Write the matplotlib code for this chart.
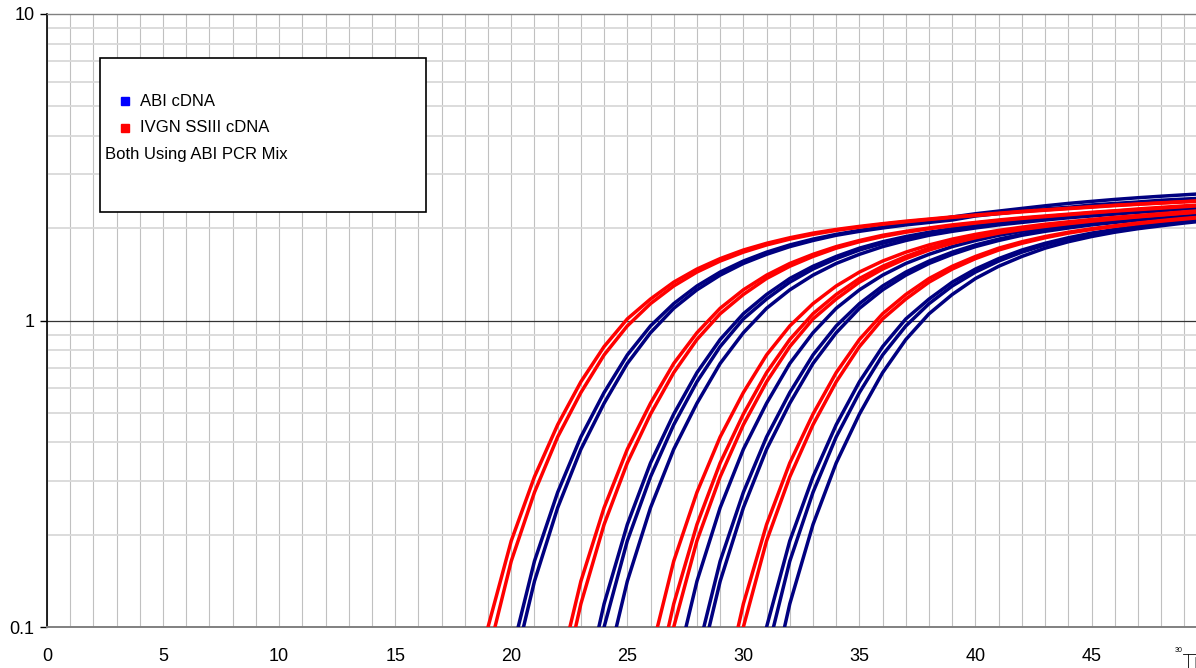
import matplotlib
matplotlib.use("Agg")
import matplotlib.pyplot as plt
from matplotlib.ticker import MultipleLocator, LogLocator, FixedLocator, NullFormatter
from matplotlib.patches import Rectangle
from matplotlib.lines import Line2D

plt.rcParams['font.family'] = ['Liberation Sans', 'DejaVu Sans']

# Amplification curves (Rn per cycle), each list starts at the given first cycle
# ABI cDNA (blue)
abi_1a_start = 20
abi_1a = [0.081, 0.164, 0.275, 0.417, 0.582, 0.772, 0.960, 1.135, 1.296, 1.439, 1.563,
          1.671, 1.764, 1.843, 1.910, 1.968, 2.016, 2.061, 2.119, 2.176, 2.230, 2.275,
          2.321, 2.367, 2.410, 2.447, 2.483, 2.515, 2.544, 2.571, 2.598]
abi_1b_start = 20
abi_1b = [0.068, 0.141, 0.245, 0.380, 0.537, 0.724, 0.912, 1.096, 1.259, 1.406, 1.535,
          1.644, 1.742, 1.824, 1.897, 1.954, 2.004, 2.051, 2.089, 2.128, 2.193, 2.233,
          2.273, 2.314, 2.340, 2.382, 2.409, 2.436, 2.468, 2.490, 2.512]
abi_2a_start = 23
abi_2a = [0.055, 0.119, 0.216, 0.343, 0.495, 0.676, 0.867, 1.052, 1.216, 1.371, 1.503,
          1.618, 1.722, 1.807, 1.879, 1.941, 1.993, 2.037, 2.080, 2.118, 2.153, 2.183,
          2.214, 2.245, 2.275, 2.300, 2.326, 2.352]
abi_2b_start = 23
abi_2b = [0.045, 0.100, 0.191, 0.309, 0.457, 0.631, 0.822, 1.012, 1.175, 1.334, 1.472,
          1.592, 1.698, 1.786, 1.862, 1.928, 1.982, 2.028, 2.070, 2.109, 2.143, 2.178,
          2.208, 2.239, 2.270, 2.296, 2.323, 2.350]
abi_2c_start = 24
abi_2c = [0.068, 0.141, 0.245, 0.380, 0.537, 0.724, 0.912, 1.096, 1.259, 1.406, 1.535,
          1.644, 1.742, 1.824, 1.897, 1.954, 2.004, 2.051, 2.089, 2.128, 2.163, 2.193,
          2.223, 2.254, 2.280, 2.312, 2.339]
abi_3a_start = 27
abi_3a = [0.068, 0.141, 0.245, 0.380, 0.537, 0.724, 0.912, 1.096, 1.259, 1.406, 1.535,
          1.644, 1.742, 1.824, 1.897, 1.954, 2.004, 2.051, 2.089, 2.128, 2.163, 2.193,
          2.223, 2.254]
abi_3b_start = 28
abi_3b = [0.081, 0.164, 0.275, 0.417, 0.582, 0.772, 0.960, 1.135, 1.296, 1.439, 1.563,
          1.671, 1.764, 1.843, 1.910, 1.968, 2.016, 2.061, 2.099, 2.136, 2.170, 2.200,
          2.231]
abi_3c_start = 28
abi_3c = [0.068, 0.141, 0.245, 0.380, 0.537, 0.724, 0.912, 1.096, 1.259, 1.406, 1.535,
          1.644, 1.742, 1.824, 1.897, 1.954, 2.004, 2.051, 2.089, 2.128, 2.163, 2.193,
          2.223]
abi_4a_start = 30
abi_4a = [0.045, 0.100, 0.191, 0.309, 0.457, 0.631, 0.822, 1.012, 1.175, 1.334, 1.472,
          1.592, 1.698, 1.786, 1.862, 1.928, 1.982, 2.028, 2.070, 2.109, 2.143]
abi_4b_start = 31
abi_4b = [0.081, 0.164, 0.275, 0.417, 0.582, 0.772, 0.960, 1.135, 1.296, 1.439, 1.563,
          1.671, 1.764, 1.843, 1.910, 1.968, 2.016, 2.061, 2.099, 2.136]
abi_4c_start = 31
abi_4c = [0.055, 0.119, 0.216, 0.343, 0.495, 0.676, 0.867, 1.052, 1.216, 1.371, 1.503,
          1.618, 1.722, 1.807, 1.879, 1.941, 1.993, 2.037, 2.080, 2.118]

# IVGN SSIII cDNA (red)
ivgn_1a_start = 18
ivgn_1a = [0.045, 0.100, 0.191, 0.309, 0.457, 0.631, 0.822, 1.012, 1.175, 1.334, 1.472,
           1.592, 1.698, 1.786, 1.862, 1.928, 1.982, 2.028, 2.070, 2.109, 2.143, 2.178,
           2.208, 2.239, 2.270, 2.296, 2.323, 2.350, 2.377, 2.399, 2.421, 2.443, 2.466]
ivgn_1b_start = 19
ivgn_1b = [0.081, 0.164, 0.275, 0.417, 0.582, 0.772, 0.960, 1.135, 1.296, 1.439, 1.563,
           1.671, 1.764, 1.843, 1.910, 1.968, 2.016, 2.061, 2.099, 2.136, 2.170, 2.200,
           2.231, 2.262, 2.290, 2.317, 2.343, 2.370, 2.394, 2.416, 2.438, 2.458]
ivgn_2a_start = 22
ivgn_2a = [0.068, 0.141, 0.245, 0.380, 0.537, 0.724, 0.912, 1.096, 1.259, 1.406, 1.535,
           1.644, 1.742, 1.824, 1.897, 1.954, 2.004, 2.051, 2.089, 2.128, 2.163, 2.193,
           2.223, 2.254, 2.280, 2.312, 2.339, 2.366, 2.388]
ivgn_2b_start = 22
ivgn_2b = [0.055, 0.119, 0.216, 0.343, 0.495, 0.676, 0.867, 1.052, 1.216, 1.371, 1.503,
           1.618, 1.722, 1.807, 1.879, 1.941, 1.993, 2.037, 2.080, 2.118, 2.153, 2.183,
           2.214, 2.245, 2.275, 2.300, 2.326, 2.352, 2.378]
ivgn_3a_start = 26
ivgn_3a = [0.081, 0.164, 0.275, 0.417, 0.582, 0.772, 0.960, 1.135, 1.296, 1.439, 1.563,
           1.671, 1.764, 1.843, 1.910, 1.968, 2.016, 2.061, 2.099, 2.136, 2.170, 2.200,
           2.231, 2.262, 2.290]
ivgn_3b_start = 26
ivgn_3b = [0.055, 0.119, 0.216, 0.343, 0.495, 0.676, 0.867, 1.052, 1.216, 1.371, 1.503,
           1.618, 1.722, 1.807, 1.879, 1.941, 1.993, 2.037, 2.080, 2.118, 2.153, 2.183,
           2.214, 2.245, 2.275]
ivgn_3c_start = 26
ivgn_3c = [0.045, 0.100, 0.191, 0.309, 0.457, 0.631, 0.822, 1.012, 1.175, 1.334, 1.472,
           1.592, 1.698, 1.786, 1.862, 1.928, 1.982, 2.028, 2.070, 2.109, 2.143, 2.178,
           2.208, 2.239, 2.270]
ivgn_4a_start = 29
ivgn_4a = [0.055, 0.119, 0.216, 0.343, 0.495, 0.676, 0.867, 1.052, 1.216, 1.371, 1.503,
           1.618, 1.722, 1.807, 1.879, 1.941, 1.993, 2.037, 2.080, 2.118, 2.153, 2.183]
ivgn_4b_start = 29
ivgn_4b = [0.045, 0.100, 0.191, 0.309, 0.457, 0.631, 0.822, 1.012, 1.175, 1.334, 1.472,
           1.592, 1.698, 1.786, 1.862, 1.928, 1.982, 2.028, 2.070, 2.109, 2.143, 2.178]

abi_curves = [(abi_1a_start, abi_1a), (abi_1b_start, abi_1b),
              (abi_2a_start, abi_2a), (abi_2b_start, abi_2b), (abi_2c_start, abi_2c),
              (abi_3a_start, abi_3a), (abi_3b_start, abi_3b), (abi_3c_start, abi_3c),
              (abi_4a_start, abi_4a), (abi_4b_start, abi_4b), (abi_4c_start, abi_4c)]
ivgn_curves = [(ivgn_1a_start, ivgn_1a), (ivgn_1b_start, ivgn_1b),
               (ivgn_2a_start, ivgn_2a), (ivgn_2b_start, ivgn_2b),
               (ivgn_3a_start, ivgn_3a), (ivgn_3b_start, ivgn_3b), (ivgn_3c_start, ivgn_3c),
               (ivgn_4a_start, ivgn_4a), (ivgn_4b_start, ivgn_4b)]

y_ticks = [0.1, 1, 10]
y_tick_labels = ['0.1', '1', '10']
legend_labels = ['ABI cDNA', 'IVGN SSIII cDNA']
note_text = 'Both Using ABI PCR Mix'

W, H = 1196, 668
fig = plt.figure(figsize=(W / 100, H / 100), dpi=100)
ax = fig.add_axes([47 / W, 41 / H, 1149 / W, 613 / H])
ax.set_yscale('log')

for start, vals in abi_curves:
    ax.plot(range(start, start + len(vals)), vals, color='#000080', lw=2.5, zorder=3)
for start, vals in ivgn_curves:
    ax.plot(range(start, start + len(vals)), vals, color='#ff0000', lw=2.5, zorder=3)

ax.set_xlim(0, 49.5)
ax.set_ylim(0.1, 10)

ax.xaxis.set_major_locator(MultipleLocator(5))
ax.xaxis.set_minor_locator(MultipleLocator(1))
ax.yaxis.set_major_locator(FixedLocator(y_ticks))
ax.set_yticklabels(y_tick_labels)
ax.yaxis.set_minor_locator(LogLocator(base=10, subs=range(2, 10)))
ax.yaxis.set_minor_formatter(NullFormatter())

ax.set_axisbelow(True)
ax.grid(which='both', axis='x', color='#c0c0c0', lw=0.8)
ax.grid(which='minor', axis='y', color='#d9d9d9', lw=1.3)
ax.axhline(1, color='#333333', lw=0.9, zorder=1)

ax.tick_params(axis='x', which='both', length=0, pad=15, labelsize=13)
ax.tick_params(axis='y', which='major', length=5, width=1, direction='out', pad=4, labelsize=13)
ax.tick_params(axis='y', which='minor', length=0)

ax.spines['left'].set_color('black')
ax.spines['left'].set_linewidth(1.2)
ax.spines['bottom'].set_color('#808080')
ax.spines['bottom'].set_linewidth(1.4)
ax.spines['top'].set_color('#808080')
ax.spines['top'].set_linewidth(1.0)
ax.spines['right'].set_visible(False)

# legend box drawn by hand
fig.add_artist(Rectangle((100 / W, 1 - 212 / H), 326 / W, 154 / H, transform=fig.transFigure,
                         facecolor='white', edgecolor='black', lw=1.2, zorder=5))
marker_colors = ['#0000ff', '#ff0000']
marker_rows = [101, 128]
for label, c, row in zip(legend_labels, marker_colors, marker_rows):
    fig.add_artist(Line2D([124.5 / W], [1 - row / H], marker='s', ms=5.5, color=c,
                          linestyle='none', transform=fig.transFigure, zorder=6))
    fig.text(140 / W, 1 - row / H, label, va='center', ha='left', fontsize=12, zorder=6)
fig.text(105 / W, 1 - 155 / H, note_text, va='center', ha='left', fontsize=12, zorder=6)

# stray fragment at the lower right corner
fig.text(1175 / W, 1 - 651 / H, '30', fontsize=5, va='center', ha='left')
fig.add_artist(Line2D([1183 / W, 1196 / W], [1 - 654 / H, 1 - 654 / H], color='black', lw=0.6,
                      transform=fig.transFigure))
fig.add_artist(Line2D([1188 / W, 1188 / W], [1 - 654 / H, 0], color='black', lw=0.6,
                      transform=fig.transFigure))
fig.add_artist(Line2D([1195 / W, 1195 / W], [1 - 657 / H, 0], color='#808080', lw=0.6,
                      transform=fig.transFigure))

fig.savefig('out.png', dpi=100)
